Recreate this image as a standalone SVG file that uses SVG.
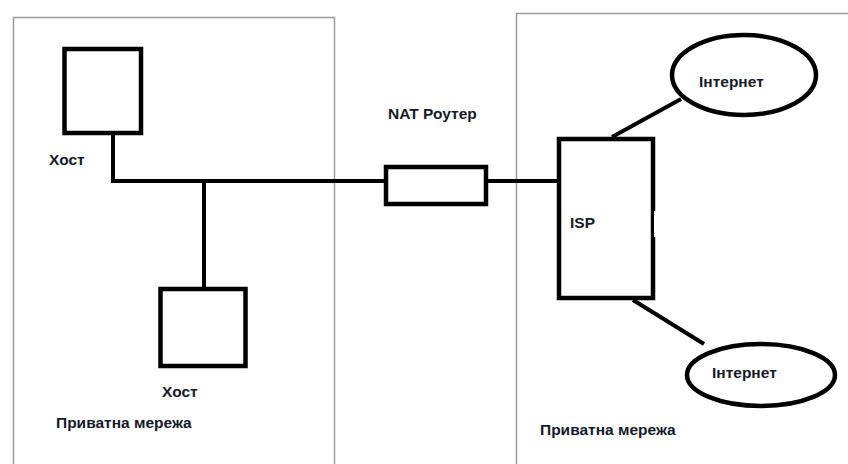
<svg xmlns="http://www.w3.org/2000/svg" width="848" height="464" viewBox="0 0 848 464">
<style>
.panel{fill:none;stroke:#9a9a9a;stroke-width:1.5}
.box{fill:#fff;stroke:#000;stroke-width:4.5}
.wire{fill:none;stroke:#000;stroke-width:4}
.lbl{font-family:"Liberation Sans",Arial,sans-serif;font-weight:bold;font-size:15.5px;fill:#141a2a}
</style>
<rect width="848" height="464" fill="#fff"/>
<g id="panel-left"><path class="panel" d="M13.5,470 V17.5 H334.5 V470"/></g>
<g id="panel-right"><path class="panel" d="M516.5,470 V13.5 H860"/></g>
<g id="connectors">
<path class="wire" d="M113,134 V181 H385"/>
<path class="wire" d="M204,181 V287"/>
<path class="wire" d="M488,181 H557"/>
<path class="wire" d="M612,137 L681,99"/>
<path class="wire" d="M633,300 L704,344"/>
</g>
<g id="host1"><rect class="box" x="64.5" y="49" width="76.5" height="84"/><text class="lbl" x="49" y="165">Хост</text></g>
<g id="host2"><rect class="box" x="160.5" y="289" width="85" height="77"/><text class="lbl" x="162" y="397">Хост</text></g>
<g id="nat"><rect class="box" x="386" y="167" width="100" height="37"/><text class="lbl" x="388" y="119">NAT Роутер</text></g>
<g id="isp"><rect class="box" x="559" y="139" width="94" height="159"/><rect x="654" y="211" width="4" height="26" fill="#fff"/><text class="lbl" x="570" y="228">ISP</text></g>
<g id="internet1"><ellipse class="box" cx="744" cy="75" rx="72" ry="40"/><text class="lbl" x="699" y="87">Інтернет</text></g>
<g id="internet2"><ellipse class="box" cx="761" cy="375" rx="74" ry="31"/><text class="lbl" x="712" y="378">Інтернет</text></g>
<g id="private-left"><text class="lbl" x="56" y="428">Приватна мережа</text></g>
<g id="private-right"><text class="lbl" x="540" y="435">Приватна мережа</text></g>
</svg>
